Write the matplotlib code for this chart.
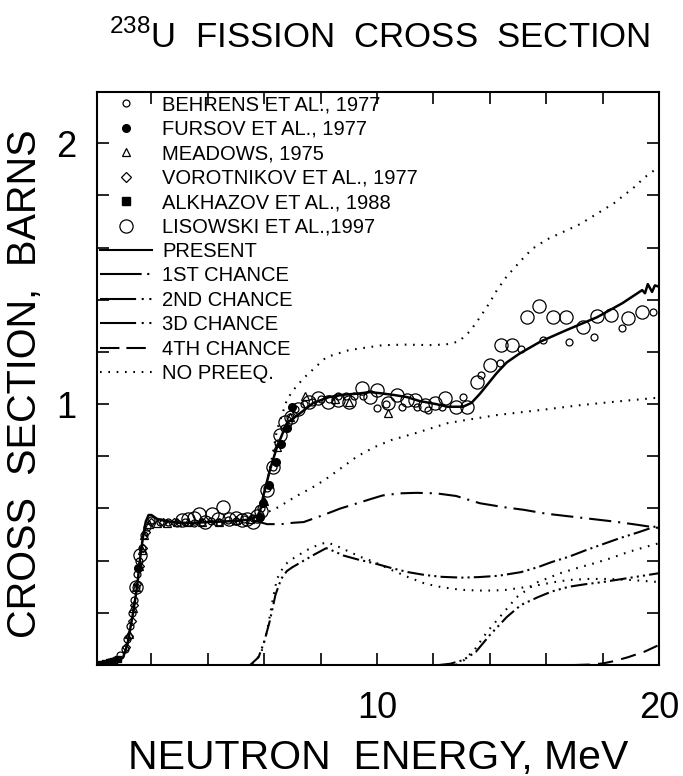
import matplotlib
matplotlib.use("Agg")
import matplotlib.pyplot as plt
from matplotlib.lines import Line2D
from matplotlib.ticker import MultipleLocator, FixedLocator

plt.rcParams['font.family'] = ['Liberation Sans', 'DejaVu Sans']
plt.rcParams['mathtext.fontset'] = 'custom'
plt.rcParams['mathtext.rm'] = 'Liberation Sans'
plt.rcParams['lines.scale_dashes'] = False

# ---- experimental data (MeV, barns) ----
behrens_e = [0.3, 0.5, 0.7, 0.9, 1.05, 1.15, 1.25, 1.32, 1.38, 1.45, 1.5, 1.57, 1.65, 1.75, 1.85, 2.0,
             2.3, 2.6, 2.9, 3.2, 3.5, 3.8, 4.1, 4.4, 4.7, 5.0, 5.3, 5.6,
             5.9, 6.1, 6.3, 6.5, 6.7, 6.9, 7.1, 7.4,
             7.7, 8.0, 8.3, 8.6, 8.9, 9.2, 9.5, 10.0, 10.3, 10.9, 11.4, 11.8, 12.3, 13.05,
             13.7, 14.35, 15.1, 15.9, 16.8, 17.7, 18.7, 19.8]
behrens_s = [0.005, 0.01, 0.02, 0.04, 0.06, 0.1, 0.15, 0.2, 0.25, 0.3, 0.35, 0.4, 0.45, 0.5, 0.53, 0.555,
             0.55, 0.55, 0.545, 0.55, 0.545, 0.55, 0.553, 0.548, 0.555, 0.552, 0.56, 0.565,
             0.6, 0.68, 0.76, 0.85, 0.91, 0.95, 0.98, 1.0,
             1.01, 1.02, 1.02, 1.03, 1.03, 1.03, 1.03, 0.985, 1.0, 0.99, 0.99, 0.977, 0.99, 1.027,
             1.11, 1.157, 1.21, 1.245, 1.24, 1.257, 1.29, 1.352]

fursov_e = [1.52, 5.85, 5.96, 6.17, 6.4, 6.6, 6.8, 7.0]
fursov_s = [0.37, 0.567, 0.62, 0.69, 0.778, 0.847, 0.908, 0.99]

meadows_e = [1.2, 1.35, 1.45, 1.55, 1.65, 1.75, 1.9, 2.2, 2.55, 2.9, 3.3, 3.8, 4.4, 5.0, 5.5,
             6.0, 6.45, 6.9, 7.45, 8.5, 9.0, 10.4]
meadows_s = [0.12, 0.22, 0.3, 0.38, 0.44, 0.5, 0.54, 0.545, 0.545, 0.55, 0.55, 0.55, 0.55, 0.555, 0.56,
             0.63, 0.835, 0.95, 1.03, 1.02, 1.01, 0.965]

vorot_e = [1.1, 1.2, 1.3, 1.4, 1.5, 1.6, 1.7, 1.8, 2.0, 2.4, 2.8]
vorot_s = [0.07, 0.11, 0.17, 0.23, 0.31, 0.38, 0.45, 0.51, 0.55, 0.55, 0.548]

alkh_e = [0.2, 0.35, 0.5, 0.65, 0.8]
alkh_s = [0.004, 0.006, 0.01, 0.015, 0.022]

lisow_e = [1.45, 1.6, 3.1, 3.3, 3.5, 3.7, 3.9, 4.15, 4.35, 4.55, 4.75, 5.0, 5.2, 5.4, 5.6, 5.75,
           5.9, 6.1, 6.3, 6.55, 6.75, 6.95, 7.2,
           7.6, 7.9, 8.27, 8.6, 9.0, 9.45, 9.75, 10.0, 10.4, 10.7, 11.06, 11.35, 11.7, 12.06, 12.4, 12.8, 13.2,
           13.55, 14.0, 14.4, 14.8, 15.3, 15.75, 16.25, 16.7, 17.3, 17.8, 18.3, 18.9, 19.4]
lisow_s = [0.3, 0.42, 0.555, 0.56, 0.565, 0.58, 0.55, 0.58, 0.56, 0.605, 0.56, 0.565, 0.555, 0.56, 0.55, 0.57,
           0.59, 0.67, 0.76, 0.88, 0.93, 0.95, 0.98,
           1.008, 1.023, 1.008, 1.015, 1.008, 1.06, 1.027, 1.054, 1.004, 1.035, 1.015, 1.015, 0.996, 1.004, 1.023, 0.99, 0.99,
           1.085, 1.15, 1.226, 1.226, 1.333, 1.375, 1.333, 1.333, 1.295, 1.337, 1.34, 1.33, 1.352]

# ---- calculations ----
total_e = [0.1, 0.5, 0.8, 1.0, 1.15, 1.25, 1.35, 1.45, 1.52, 1.6, 1.7, 1.8, 1.9, 2.0, 2.2, 2.5, 3.0, 3.5,
           4.0, 4.5, 5.0, 5.5, 5.75, 5.85, 5.96, 6.2, 6.45, 6.8, 7.27, 7.73, 8.3, 8.8, 9.3, 9.75, 10.1,
           10.6, 11.06, 11.5, 12.1, 12.5, 13.05, 13.35, 13.65, 14.25, 14.6, 15.07, 15.8, 16.7, 17.8,
           18.7, 19.4, 19.5, 19.6, 19.75, 19.85, 20.0]
total_s = [0.0, 0.003, 0.012, 0.03, 0.08, 0.14, 0.2, 0.27, 0.326, 0.41, 0.49, 0.55, 0.575, 0.575, 0.56, 0.552, 0.545, 0.545,
           0.548, 0.55, 0.552, 0.558, 0.57, 0.59, 0.645, 0.747, 0.835, 0.927, 0.965, 1.004, 1.027, 1.036, 1.04, 1.046, 1.042,
           1.035, 1.027, 1.012, 1.0, 0.99, 0.99, 1.005, 1.04, 1.12, 1.16, 1.195, 1.24, 1.283, 1.333,
           1.387, 1.437, 1.425, 1.46, 1.43, 1.455, 1.45]

first_e = [5.6, 6.1, 6.6, 7.0, 7.4, 8.1, 8.7, 9.3, 9.8, 10.2, 10.8, 11.4, 12.1, 12.8, 13.65, 14.5,
           15.2, 16.0, 16.8, 17.6, 18.4, 19.2, 20.0]
first_s = [0.555, 0.54, 0.54, 0.545, 0.548, 0.575, 0.6, 0.62, 0.637, 0.65, 0.658, 0.66, 0.658, 0.648, 0.62, 0.605,
           0.595, 0.58, 0.57, 0.56, 0.55, 0.538, 0.525]

second_e = [5.5, 5.8, 6.0, 6.2, 6.4, 6.6, 6.8, 7.0, 7.4, 7.8, 8.2, 8.5, 8.8, 9.3, 9.9, 10.5, 11.1, 11.7,
            12.3, 13.0, 13.6, 14.3, 15.1, 15.7, 16.2, 16.8, 17.4, 18.0, 18.6, 19.3, 20.0]
second_s = [0.0, 0.03, 0.09, 0.17, 0.27, 0.33, 0.36, 0.375, 0.4, 0.425, 0.448, 0.435, 0.42, 0.405, 0.39, 0.372, 0.356, 0.345,
            0.338, 0.335, 0.337, 0.342, 0.356, 0.375, 0.395, 0.415, 0.44, 0.463, 0.486, 0.51, 0.536]

third_e = [12.2, 12.6, 13.05, 13.5, 14.0, 14.6, 15.1, 15.7, 16.2, 16.8, 17.4, 18.0, 19.0, 20.0]
third_s = [0.0, 0.005, 0.019, 0.05, 0.115, 0.184, 0.23, 0.26, 0.282, 0.3, 0.31, 0.318, 0.335, 0.352]

fourth_e = [17.0, 17.6, 18.0, 18.4, 18.9, 19.5, 20.0]
fourth_s = [0.0, 0.002, 0.006, 0.015, 0.03, 0.052, 0.077]

# no pre-equilibrium
np_total_e = [5.9, 6.2, 6.45, 6.8, 7.0, 7.4, 7.8, 8.2, 9.0, 10.2, 11.0, 12.0, 12.5, 12.9, 13.3, 13.65,
              14.0, 14.25, 14.6, 15.1, 15.5, 16.0, 16.6, 17.2, 17.8, 18.4, 19.1, 19.5, 20.0]
np_total_s = [0.6, 0.75, 0.9, 1.015, 1.05, 1.1, 1.14, 1.18, 1.207, 1.226, 1.228, 1.226, 1.23, 1.24, 1.28, 1.333,
              1.39, 1.437, 1.49, 1.55, 1.595, 1.63, 1.66, 1.69, 1.73, 1.77, 1.83, 1.87, 1.91]
np_first_e = [5.9, 6.2, 6.5, 7.1, 7.7, 8.15, 8.6, 9.3, 9.9, 10.5, 11.4, 12.5, 13.2, 14.25, 14.8, 16.0,
              17.2, 18.5, 19.8, 20.0]
np_first_s = [0.575, 0.59, 0.605, 0.645, 0.68, 0.71, 0.745, 0.8, 0.835, 0.862, 0.89, 0.927, 0.94, 0.958, 0.965, 0.98,
              0.996, 1.01, 1.023, 1.025]
np_second_e = [5.6, 5.9, 6.1, 6.3, 6.45, 6.7, 6.9, 7.2, 7.5, 7.9, 8.2, 8.5, 8.9, 9.4, 9.9, 10.5, 11.1,
               11.7, 12.3, 13.0, 13.8, 14.5, 15.1, 15.7, 16.3, 16.8, 17.5, 18.2, 19.0, 20.0]
np_second_s = [0.0, 0.05, 0.13, 0.25, 0.33, 0.38, 0.4, 0.42, 0.44, 0.46, 0.47, 0.46, 0.44, 0.415, 0.395, 0.365, 0.337,
               0.312, 0.298, 0.288, 0.285, 0.287, 0.296, 0.306, 0.318, 0.326, 0.33, 0.33, 0.326, 0.318]
np_third_e = [12.8, 13.1, 13.5, 13.9, 14.35, 14.95, 15.7, 16.5, 17.1, 17.7, 18.3, 18.9, 19.5, 20.0]
np_third_s = [0.0, 0.02, 0.065, 0.127, 0.184, 0.26, 0.318, 0.352, 0.372, 0.39, 0.41, 0.433, 0.452, 0.467]

# ---- figure ----
fig = plt.figure(figsize=(6.83, 7.76), dpi=100)
ax = fig.add_axes([0.142, 0.143, 0.823, 0.738])

lw = 1.5
d1 = (0, (16, 5, 1.5, 5))
d2 = (0, (12, 3, 1.5, 3, 1.5, 3))
d3 = (0, (12, 3, 1.5, 3, 1.5, 3, 1.5, 3))
d4 = (0, (11, 6))
dn = (0, (1.2, 4.8))

ax.plot(np_total_e, np_total_s, color='k', lw=lw, ls=dn)
ax.plot(np_first_e, np_first_s, color='k', lw=lw, ls=dn)
ax.plot(np_second_e, np_second_s, color='k', lw=lw, ls=dn)
ax.plot(np_third_e, np_third_s, color='k', lw=lw, ls=dn)
ax.plot(first_e, first_s, color='k', lw=lw, ls=d1)
ax.plot(second_e, second_s, color='k', lw=lw, ls=d2)
ax.plot(third_e, third_s, color='k', lw=lw, ls=d3)
ax.plot(fourth_e, fourth_s, color='k', lw=lw, ls=d4)

mew = 0.9
ax.plot(lisow_e, lisow_s, 'o', ms=9.5, mfc='none', mec='k', mew=mew)
ax.plot(behrens_e, behrens_s, 'o', ms=5, mfc='none', mec='k', mew=mew)
ax.plot(meadows_e, meadows_s, '^', ms=6, mfc='none', mec='k', mew=mew)
ax.plot(vorot_e, vorot_s, 'D', ms=4.5, mfc='none', mec='k', mew=mew)
ax.plot(alkh_e, alkh_s, 's', ms=4.5, mfc='k', mec='k')
ax.plot(fursov_e, fursov_s, 'o', ms=5.5, mfc='k', mec='k')
ax.plot(total_e, total_s, color='k', lw=1.8, ls='-')

ax.set_xlim(0.07, 20)
ax.set_ylim(0, 2.195)
ax.xaxis.set_major_locator(FixedLocator([10, 20]))
ax.xaxis.set_minor_locator(MultipleLocator(2))
ax.yaxis.set_major_locator(FixedLocator([1, 2]))
ax.yaxis.set_minor_locator(MultipleLocator(0.2))
ax.set_xticklabels(['10', '20'])
ax.set_yticklabels(['1', '2'])
ax.tick_params(which='both', direction='in', top=True, right=True, length=8.5, width=1.2, labelsize=26)
ax.tick_params(axis='x', pad=19)
ax.tick_params(axis='y', pad=15)
for sp in ax.spines.values():
    sp.set_linewidth(1.5)

handles = [
    Line2D([], [], ls='none', marker='o', ms=5, mfc='none', mec='k', mew=mew),
    Line2D([], [], ls='none', marker='o', ms=5.5, mfc='k', mec='k'),
    Line2D([], [], ls='none', marker='^', ms=6, mfc='none', mec='k', mew=mew),
    Line2D([], [], ls='none', marker='D', ms=5, mfc='none', mec='k', mew=mew),
    Line2D([], [], ls='none', marker='s', ms=5.5, mfc='k', mec='k'),
    Line2D([], [], ls='none', marker='o', ms=9.5, mfc='none', mec='k', mew=mew),
    Line2D([], [], color='k', lw=lw, ls='-'),
    Line2D([], [], color='k', lw=lw, ls=(0, (30, 4, 1.5, 4))),
    Line2D([], [], color='k', lw=lw, ls=(0, (26, 4, 1.5, 4, 1.5, 4))),
    Line2D([], [], color='k', lw=lw, ls=(0, (26, 4, 1.5, 4, 1.5, 4))),
    Line2D([], [], color='k', lw=lw, ls=(0, (14, 5))),
    Line2D([], [], color='k', lw=lw, ls=dn),
]
labels = ['BEHRENS ET AL., 1977', 'FURSOV ET AL., 1977', 'MEADOWS, 1975',
          'VOROTNIKOV ET AL., 1977', 'ALKHAZOV ET AL., 1988', 'LISOWSKI ET AL.,1997',
          'PRESENT', '1ST CHANCE', '2ND CHANCE', '3D CHANCE', '4TH CHANCE', 'NO PREEQ.']
ax.legend(handles, labels, loc='upper left', bbox_to_anchor=(0, 1), frameon=False, fontsize=14.5,
          handlelength=2.6, handletextpad=0.5, labelspacing=0.27, borderaxespad=0, borderpad=0.15,
          numpoints=1)

fig.text(0.556, 0.938, r'$^{\mathrm{238}}$U  FISSION  CROSS  SECTION', fontsize=25, ha='center', va='baseline')
fig.text(0.553, 0.009, 'NEUTRON  ENERGY, MeV', fontsize=29.5, ha='center', va='baseline')
fig.text(0.037, 0.505, 'CROSS  SECTION,  BARNS', fontsize=28.5, ha='center', va='center', rotation=90)

fig.savefig('out.png', dpi=100)
